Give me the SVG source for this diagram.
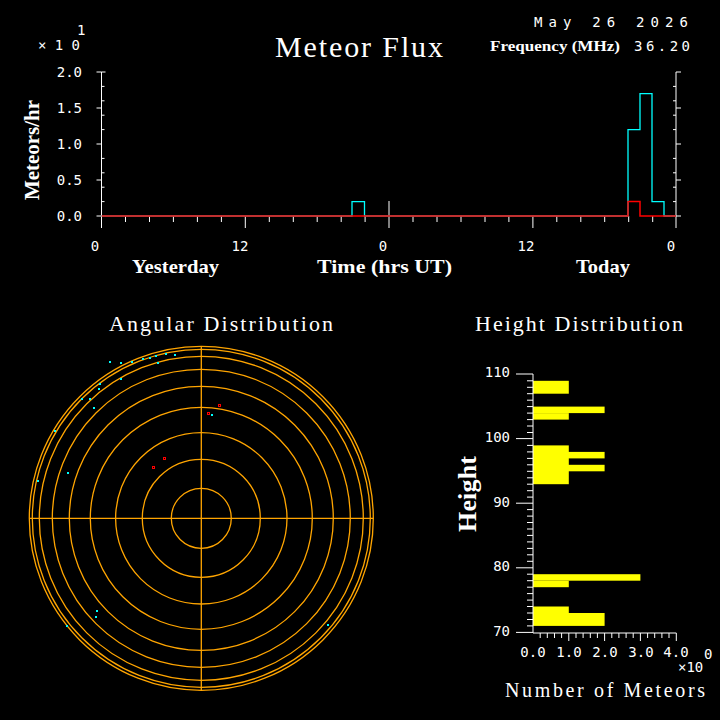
<svg xmlns="http://www.w3.org/2000/svg" width="720" height="720" viewBox="0 0 720 720">
<style>
.t{font-family:"Liberation Serif",serif;fill:#fff}
.m{font-family:"DejaVu Sans Mono",monospace;fill:#fff;font-size:14px}
.ax{stroke:#fff;stroke-width:1;fill:none}
.rg{stroke:#ffa500;stroke-width:1.3;fill:none}
</style>
<rect width="720" height="720" fill="#000"/>
<g id="header">
<text class="m" x="534" y="27" textLength="154" lengthAdjust="spacing">May 26 2026</text>
<text class="t" x="275" y="57" font-size="30" textLength="168" lengthAdjust="spacing">Meteor Flux</text>
<text class="t" x="490" y="51" font-size="15" font-weight="bold" textLength="130" lengthAdjust="spacingAndGlyphs">Frequency (MHz)</text>
<text class="m" x="634" y="51" textLength="56" lengthAdjust="spacing">36.20</text>
<text class="m" x="38" y="50" font-size="14" textLength="42" lengthAdjust="spacing">×10</text>
<text class="m" x="77" y="35" font-size="14">1</text>
</g>
<g id="flux">
<path class="ax" d="M101.5 72V228M676 72V228"/>
<path class="ax" d="M101.5 72h-5M101.5 216h-5M101.5 180h-5M101.5 144h-5M101.5 108h-5M676 72h5M676 108h5M676 144h5M676 180h5M676 216h5"/>
<path class="ax" d="M101.5 72h4M101.5 86.4h3M101.5 100.8h3M101.5 115.2h3M101.5 129.6h3M101.5 158.4h3M101.5 172.8h3M101.5 187.2h3M101.5 201.6h3M676 86.4h-3M676 100.8h-3M676 115.2h-3M676 129.6h-3M676 158.4h-3M676 172.8h-3M676 187.2h-3M676 201.6h-3"/>
<path class="ax" d="M125.5 216v6M149.5 216v6M173.4 216v6M197.4 216v6M221.4 216v6M245.3 216v12M269.3 216v6M293.3 216v6M317.2 216v6M341.2 216v6M365.1 216v6M389 201v27M413 216v6M437 216v6M461 216v6M485 216v6M508.9 216v6M532.9 216v12M556.8 216v6M580.8 216v6M604.7 216v6M628.7 216v6M652.7 216v6"/>
<path d="M101.5 216H352V201.6H364.5V216H628V129.6H640V93.6H652V201.6H664V216H676" stroke="#0ff" stroke-width="1.3" fill="none"/>
<path d="M101.5 216H628V201.6H640V216H676" stroke="#f00" stroke-width="1.5" fill="none"/>
<g class="m" font-size="13" text-anchor="end">
<text x="82" y="77">2.0</text><text x="82" y="113">1.5</text><text x="82" y="149">1.0</text><text x="82" y="185">0.5</text><text x="82" y="221">0.0</text>
</g>
<g class="m" font-size="13" text-anchor="middle">
<text x="95" y="251">0</text><text x="240" y="251">12</text><text x="383" y="251">0</text><text x="526" y="251">12</text><text x="671" y="251">0</text>
</g>
<text class="t" x="132" y="273" font-size="19" font-weight="bold" textLength="87" lengthAdjust="spacingAndGlyphs">Yesterday</text>
<text class="t" x="317" y="273" font-size="19" font-weight="bold" textLength="135" lengthAdjust="spacingAndGlyphs">Time (hrs UT)</text>
<text class="t" x="576" y="273" font-size="19" font-weight="bold" textLength="54" lengthAdjust="spacingAndGlyphs">Today</text>
<text class="t" font-size="20" font-weight="bold" transform="translate(39 150) rotate(-90)" x="-50" textLength="100" lengthAdjust="spacingAndGlyphs">Meteors/hr</text>
</g>
<g id="angular">
<text class="t" x="109" y="331" font-size="22" textLength="224" lengthAdjust="spacing">Angular Distribution</text>
<g class="rg">
<circle cx="201.3" cy="518.3" r="30"/><circle cx="201.3" cy="518.3" r="59"/><circle cx="201.3" cy="518.3" r="85.7"/><circle cx="201.3" cy="518.3" r="111"/><circle cx="201.3" cy="518.3" r="132"/><circle cx="201.3" cy="518.3" r="149"/><circle cx="201.3" cy="518.3" r="162"/><circle cx="201.3" cy="518.3" r="169"/><circle cx="201.3" cy="518.3" r="172"/>
<path d="M29.3 518.3H373.3M201.3 346.3V690.3"/>
</g>
<g fill="#0ff">
<rect x="165" y="353" width="2" height="2"/><rect x="174" y="354" width="2" height="2"/><rect x="155" y="355" width="2" height="2"/><rect x="149" y="357" width="2" height="2"/><rect x="142" y="358" width="2" height="2"/><rect x="131" y="361" width="2" height="2"/><rect x="109" y="361" width="2" height="2"/><rect x="157" y="362" width="2" height="2"/><rect x="120" y="362" width="2" height="2"/><rect x="120" y="378" width="2" height="2"/><rect x="99" y="383" width="2" height="2"/><rect x="98" y="388" width="2" height="2"/><rect x="81" y="398" width="2" height="2"/><rect x="89" y="398" width="2" height="2"/><rect x="93" y="407" width="2" height="2"/><rect x="54" y="430" width="2" height="2"/><rect x="67" y="472" width="2" height="2"/><rect x="37" y="480" width="2" height="2"/><rect x="211" y="414" width="2" height="2"/><rect x="96" y="610" width="2" height="2"/><rect x="95" y="616" width="2" height="2"/><rect x="66" y="625" width="2" height="2"/><rect x="327" y="624" width="2" height="2"/>
</g>
<g fill="none" stroke="#f00" stroke-width="1">
<rect x="218.5" y="404.5" width="2" height="2"/><rect x="207.5" y="412.5" width="2" height="2"/><rect x="163.5" y="457.5" width="2" height="2"/><rect x="152.5" y="466.5" width="2" height="2"/>
</g>
</g>
<g id="height">
<text class="t" x="475" y="331" font-size="22" textLength="208" lengthAdjust="spacing">Height Distribution</text>
<g fill="#ff0">
<rect x="533" y="380.8" width="35.8" height="12.9"/>
<rect x="533" y="406.6" width="71.6" height="6.5"/>
<rect x="533" y="413.1" width="35.8" height="6.5"/>
<rect x="533" y="445.4" width="35.8" height="38.8"/>
<rect x="533" y="451.9" width="71.6" height="6.5"/>
<rect x="533" y="464.8" width="71.6" height="6.5"/>
<rect x="533" y="574.2" width="107.4" height="6.5"/>
<rect x="533" y="580.7" width="35.8" height="6.5"/>
<rect x="533" y="606.5" width="35.8" height="6.5"/>
<rect x="533" y="613" width="71.6" height="12.9"/>
</g>
<path class="ax" d="M533 374V633H676.3M516 374h17M516 438.6h17M516 503.2h17M516 567.8h17M516 632.4h17"/>
<path class="ax" d="M527 380.8h6M527 387.3h6M527 393.7h6M527 400.2h6M527 406.6h6M527 413.1h6M527 419.6h6M527 426h6M527 432.5h6M527 445.4h6M527 451.9h6M527 458.4h6M527 464.8h6M527 471.3h6M527 477.8h6M527 484.2h6M527 490.7h6M527 497.1h6M527 509.6h6M527 516.1h6M527 522.5h6M527 529h6M527 535.4h6M527 541.9h6M527 548.4h6M527 554.8h6M527 561.3h6M527 574.2h6M527 580.7h6M527 587.2h6M527 593.6h6M527 600.1h6M527 606.5h6M527 613h6M527 619.5h6M527 625.9h6"/>
<path class="ax" d="M540.2 633v5M547.3 633v5M554.5 633v5M561.6 633v5M568.8 633v8M576 633v5M583.1 633v5M590.3 633v5M597.4 633v5M604.6 633v8M611.8 633v5M618.9 633v5M626.1 633v5M633.2 633v5M640.4 633v8M647.6 633v5M654.7 633v5M661.9 633v5M669 633v5M676.3 633v8"/>
<g class="m" font-size="13" text-anchor="end">
<text x="510" y="377">110</text><text x="510" y="442">100</text><text x="510" y="507">90</text><text x="510" y="571">80</text><text x="510" y="636">70</text>
</g>
<g class="m" font-size="11" text-anchor="middle">
<text x="533" y="657">0.0</text><text x="569" y="657">1.0</text><text x="605" y="657">2.0</text><text x="641" y="657">3.0</text><text x="676" y="657">4.0</text>
</g>
<text class="m" x="678" y="672" font-size="10">×10</text>
<text class="m" x="704" y="659" font-size="10">0</text>
<text class="t" x="505" y="697" font-size="20" textLength="200" lengthAdjust="spacing">Number of Meteors</text>
<text class="t" font-size="26" font-weight="bold" transform="translate(476 494) rotate(-90)" x="-38" textLength="76" lengthAdjust="spacing">Height</text>
</g>
</svg>
